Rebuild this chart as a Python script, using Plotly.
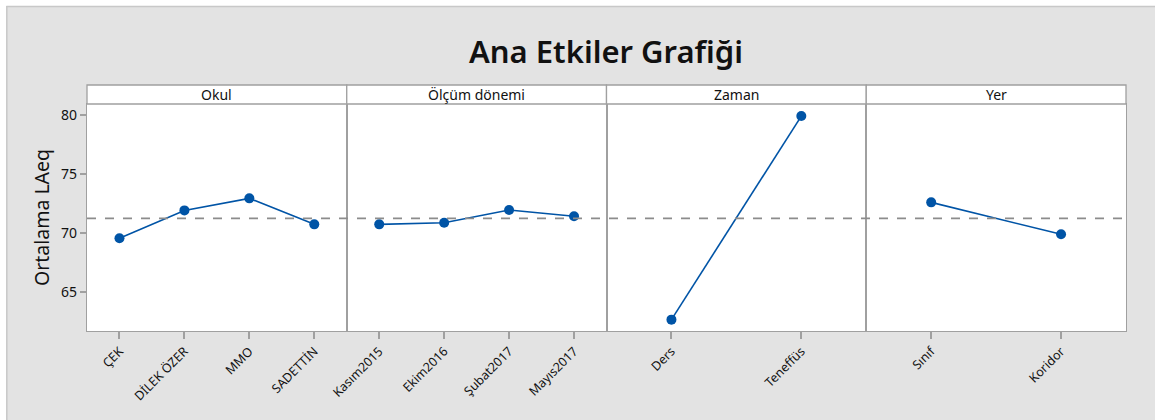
import plotly.graph_objects as go
from plotly.subplots import make_subplots

title = "Ana Etkiler Grafiği"
y_title = "Ortalama LAeq"
factors = ["Okul", "Ölçüm dönemi", "Zaman", "Yer"]
okul_levels = ["ÇEK", "DİLEK ÖZER", "MMO", "SADETTİN"]
okul_means = [69.54, 71.9, 72.92, 70.72]
donem_levels = ["Kasım2015", "Ekim2016", "Şubat2017", "Mayıs2017"]
donem_means = [70.72, 70.86, 71.93, 71.4]
zaman_levels = ["Ders", "Teneffüs"]
zaman_means = [62.66, 79.88]
yer_levels = ["Sınıf", "Koridor"]
yer_means = [72.58, 69.88]
grand_mean = 71.23
y_ticks = [65, 70, 75, 80]

panels = [(okul_levels, okul_means), (donem_levels, donem_means),
          (zaman_levels, zaman_means), (yer_levels, yer_means)]

W, H = 1155, 420
ml, mr, mt, mb = 86.7, 29, 104, 89
pw = W - ml - mr
ph = H - mt - mb


def px_x(p):
    return (p - ml) / pw


def px_y(p):
    return (H - mb - p) / ph


blue = "#0054A6"
frame_gray = "#a0a0a0"
font_fam = "Noto Sans, Open Sans, DejaVu Sans, sans-serif"

fig = make_subplots(rows=1, cols=4, horizontal_spacing=0, shared_yaxes=True)

for i, (levels, means) in enumerate(panels):
    col = i + 1
    fig.add_trace(go.Scatter(
        x=list(range(len(levels))), y=means, mode="lines+markers",
        line=dict(color=blue, width=1.6),
        marker=dict(color=blue, size=10),
        showlegend=False, hoverinfo="skip"), row=1, col=col)
    fig.update_xaxes(
        range=[-0.5, len(levels) - 0.5],
        tickmode="array", tickvals=list(range(len(levels))), ticktext=levels,
        tickangle=-45, ticks="outside", ticklen=7, tickcolor=frame_gray, tickwidth=1.5,
        showline=True, linecolor=frame_gray, linewidth=1.3, mirror=True,
        showgrid=False, zeroline=False,
        tickfont=dict(size=12.5, color="#111", family=font_fam),
        row=1, col=col)
    xn = "x" if i == 0 else f"x{col}"
    fig.add_shape(type="rect", xref=f"{xn} domain", yref="paper",
                  x0=0, x1=1, y0=1, y1=1 + 19 / ph,
                  fillcolor="white", line=dict(color=frame_gray, width=1.3), layer="above")
    fig.add_annotation(text=factors[i], xref=f"{xn} domain", yref="paper",
                       x=0.5, y=1 + 9.5 / ph, xanchor="center", yanchor="middle",
                       showarrow=False,
                       font=dict(size=14, color="#111", family=font_fam))

fig.update_yaxes(range=[61.7, 80.9], tickmode="array", tickvals=y_ticks,
                 showgrid=False, zeroline=False,
                 showline=True, linecolor=frame_gray, linewidth=1.3, mirror=True)
fig.update_yaxes(ticks="outside", ticklen=6, tickcolor=frame_gray, tickwidth=1.5,
                 tickfont=dict(size=14, color="#111", family=font_fam),
                 title=dict(text=y_title, font=dict(size=19.5, color="#111", family=font_fam),
                            standoff=6),
                 row=1, col=1)

fig.add_shape(type="line", xref="paper", yref="y", x0=0, x1=1,
              y0=grand_mean, y1=grand_mean,
              line=dict(color="#8c8c8c", width=1.6, dash="dash"), layer="above")

# white outer edge strips (top and left) with thin border line
fig.add_shape(type="rect", xref="paper", yref="paper",
              x0=px_x(-5), x1=px_x(W + 5), y0=px_y(6), y1=px_y(-5),
              fillcolor="white", line=dict(width=0), layer="below")
fig.add_shape(type="rect", xref="paper", yref="paper",
              x0=px_x(-5), x1=px_x(6), y0=px_y(H + 5), y1=px_y(-5),
              fillcolor="white", line=dict(width=0), layer="below")
fig.add_shape(type="line", xref="paper", yref="paper",
              x0=px_x(6), x1=px_x(W + 5), y0=px_y(6.5), y1=px_y(6.5),
              line=dict(color="#c8c8c8", width=1.5), layer="below")
fig.add_shape(type="line", xref="paper", yref="paper",
              x0=px_x(6.5), x1=px_x(6.5), y0=px_y(6), y1=px_y(H + 5),
              line=dict(color="#c8c8c8", width=1.5), layer="below")

fig.update_layout(
    width=W, height=H,
    margin=dict(l=ml, r=mr, t=mt, b=mb, autoexpand=False),
    paper_bgcolor="#e3e3e3", plot_bgcolor="white",
    title=dict(text=title, x=px_x(606) * pw / W + ml / W, xanchor="center",
               y=1 - 52 / H, yanchor="middle",
               font=dict(size=31, color="#111", family=font_fam, weight=600)),
)

fig.write_html("out.html", config={"displayModeBar": False},
               post_script="document.body.style.margin='0';")
